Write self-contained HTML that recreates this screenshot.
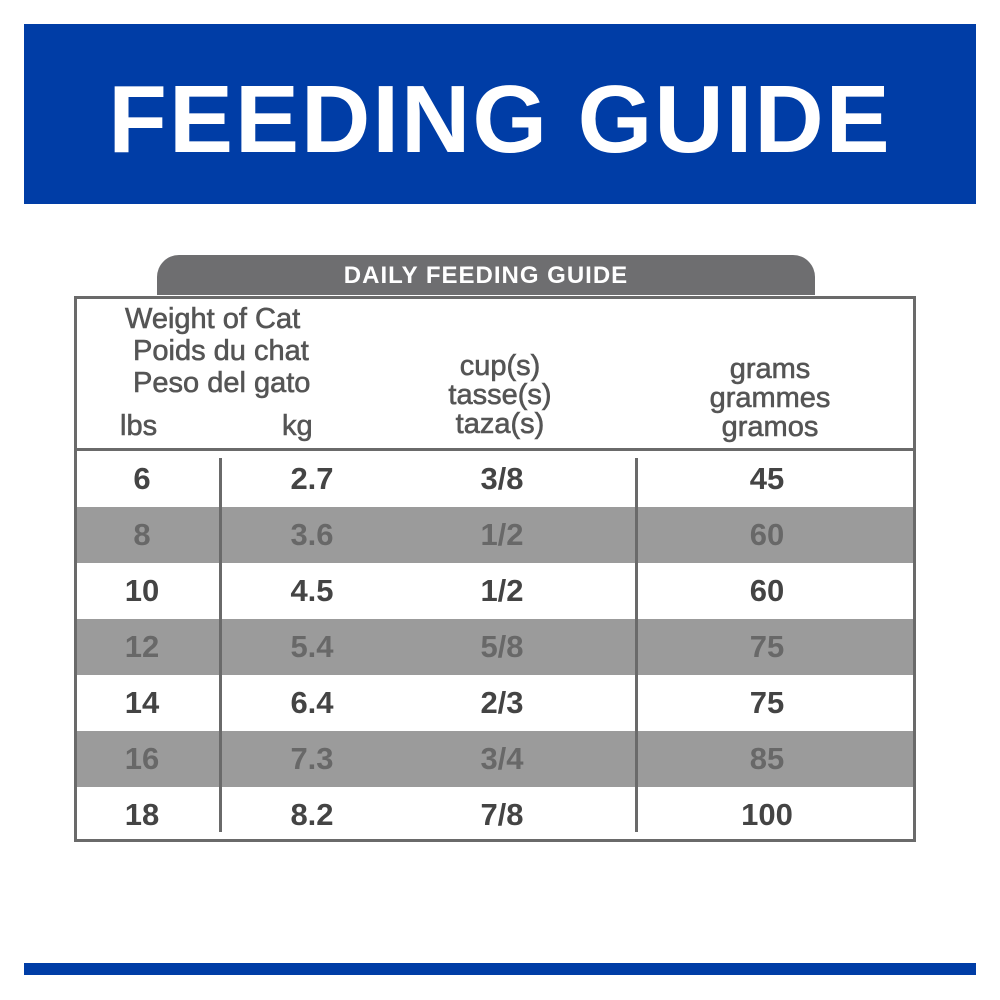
<!DOCTYPE html>
<html><head><style>
body{margin:0;width:1000px;height:1000px;background:#fff;position:relative;font-family:"Liberation Sans",sans-serif;overflow:hidden}
.a{position:absolute}
.banner{left:24px;top:24px;width:952px;height:180px;background:#003da6;color:#fff;font-weight:bold;font-size:96px;text-align:center;line-height:192px;letter-spacing:2px}
.tab{left:157px;top:255px;width:658px;height:40px;background:#6e6e70;border-radius:22px 22px 0 0;color:#fff;font-weight:bold;font-size:24px;text-align:center;line-height:42px;letter-spacing:1px}
.tbl{left:74px;top:296px;width:836px;height:540px;border:3px solid #6a6a6a}
.hd{color:#555;font-size:29px;line-height:32px;text-align:center;-webkit-text-stroke:0.6px #555}
.row{left:77px;width:836px;height:56px}
.g{background:#9b9b9b}
.c{position:absolute;top:0;line-height:56px;font-size:31px;font-weight:bold;color:#444;text-align:center}
.g .c{color:#686868}
</style></head><body>
<div class="a banner">FEEDING GUIDE</div>
<div class="a tab">DAILY FEEDING GUIDE</div>
<div class="a tbl"></div>
<div class="a hd" style="left:125px;top:303px;text-align:left">Weight of Cat<br>&nbsp;Poids du chat<br>&nbsp;Peso del gato</div>
<div class="a hd" style="left:120px;top:410px">lbs</div>
<div class="a hd" style="left:282px;top:410px">kg</div>
<div class="a hd" style="left:400px;top:352px;width:200px;line-height:29px">cup(s)<br>tasse(s)<br>taza(s)</div>
<div class="a hd" style="left:670px;top:355px;width:200px;line-height:29px">grams<br>grammes<br>gramos</div>
<div class="a" style="left:77px;top:448px;width:836px;height:3px;background:#6a6a6a"></div>
<div class="a row" style="top:451px"><div class="c" style="left:0;width:130px">6</div><div class="c" style="left:185px;width:100px">2.7</div><div class="c" style="left:375px;width:100px">3/8</div><div class="c" style="left:640px;width:100px">45</div></div>
<div class="a row g" style="top:507px"><div class="c" style="left:0;width:130px">8</div><div class="c" style="left:185px;width:100px">3.6</div><div class="c" style="left:375px;width:100px">1/2</div><div class="c" style="left:640px;width:100px">60</div></div>
<div class="a row" style="top:563px"><div class="c" style="left:0;width:130px">10</div><div class="c" style="left:185px;width:100px">4.5</div><div class="c" style="left:375px;width:100px">1/2</div><div class="c" style="left:640px;width:100px">60</div></div>
<div class="a row g" style="top:619px"><div class="c" style="left:0;width:130px">12</div><div class="c" style="left:185px;width:100px">5.4</div><div class="c" style="left:375px;width:100px">5/8</div><div class="c" style="left:640px;width:100px">75</div></div>
<div class="a row" style="top:675px"><div class="c" style="left:0;width:130px">14</div><div class="c" style="left:185px;width:100px">6.4</div><div class="c" style="left:375px;width:100px">2/3</div><div class="c" style="left:640px;width:100px">75</div></div>
<div class="a row g" style="top:731px"><div class="c" style="left:0;width:130px">16</div><div class="c" style="left:185px;width:100px">7.3</div><div class="c" style="left:375px;width:100px">3/4</div><div class="c" style="left:640px;width:100px">85</div></div>
<div class="a row" style="top:787px;height:49px"><div class="c" style="left:0;width:130px">18</div><div class="c" style="left:185px;width:100px">8.2</div><div class="c" style="left:375px;width:100px">7/8</div><div class="c" style="left:640px;width:100px">100</div></div>
<div class="a" style="left:219px;top:458px;width:3px;height:374px;background:#6a6a6a"></div>
<div class="a" style="left:635px;top:458px;width:3px;height:374px;background:#6a6a6a"></div>
<div class="a" style="left:24px;top:963px;width:952px;height:12px;background:#003da6"></div>
</body></html>
